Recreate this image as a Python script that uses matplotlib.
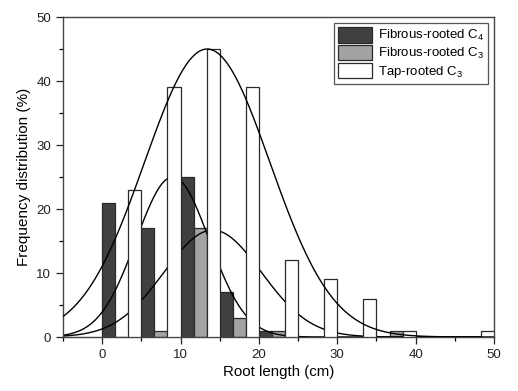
import numpy as np
import matplotlib
matplotlib.use("Agg")
import matplotlib.pyplot as plt
from matplotlib.ticker import MultipleLocator

plt.rcParams['font.family'] = ['Liberation Sans', 'DejaVu Sans']
plt.rcParams['mathtext.default'] = 'regular'

# Data
bins = [0, 5, 10, 15, 20, 25, 30, 35, 40, 45]
fibrous_c4 = [21, 17, 25, 7, 1, 0, 0, 0, 0, 0]
fibrous_c3 = [0, 1, 17, 3, 1, 0, 0, 1, 0, 0]
tap_c3 = [23, 39, 45, 39, 12, 9, 6, 1, 0, 1]
labels = ['Fibrous-rooted C$_4$', 'Fibrous-rooted C$_3$', 'Tap-rooted C$_3$']

# Fitted normal curves: (amplitude, mean, sd)
fit_c4 = (25, 9.0, 4.67)
fit_c3 = (16.7, 14.1, 6.21)
fit_tap = (45, 13.4, 8.0)

fig = plt.figure(figsize=(5.18, 3.91), dpi=100)
ax = fig.add_axes([0.1216, 0.1381, 0.8321, 0.8184])

w = 5 / 3
b = np.array(bins, dtype=float)
edge = '#2a2a2a'
ax.bar(b, fibrous_c4, width=w, align='edge', color='#404040', edgecolor=edge, linewidth=0.9, zorder=1, label=labels[0])
ax.bar(b + w, fibrous_c3, width=w, align='edge', color='#a3a3a3', edgecolor=edge, linewidth=0.9, zorder=1, label=labels[1])
ax.bar(b + 2 * w, tap_c3, width=w, align='edge', color='white', edgecolor=edge, linewidth=0.9, zorder=3, label=labels[2])

x = np.linspace(-5, 50, 600)
def gauss(p):
    a, m, s = p
    return a * np.exp(-(x - m) ** 2 / (2 * s ** 2))

ax.plot(x, gauss(fit_c4), color='black', lw=1.0, zorder=2)
ax.plot(x, gauss(fit_c3), color='black', lw=1.0, zorder=2)
ax.plot(x, gauss(fit_tap), color='black', lw=1.0, zorder=4)

ax.set_xlim(-5, 50)
ax.set_ylim(0, 50)
ax.xaxis.set_major_locator(MultipleLocator(10))
ax.xaxis.set_minor_locator(MultipleLocator(5))
ax.yaxis.set_major_locator(MultipleLocator(10))
ax.yaxis.set_minor_locator(MultipleLocator(5))
ax.tick_params(which='major', direction='out', length=5, width=0.9, labelsize=9.5, colors='#222222')
ax.tick_params(which='minor', direction='out', length=3, width=0.9)
for sp in ax.spines.values():
    sp.set_color('#444444')
    sp.set_linewidth(1.0)

ax.set_xlabel('Root length (cm)', fontsize=10.8, labelpad=3)
ax.set_ylabel('Frequency distribution (%)', fontsize=11, labelpad=4)

leg = ax.legend(loc='upper right', fontsize=9.5, frameon=True, fancybox=False,
                edgecolor='#555555', framealpha=1, handlelength=2.6, handleheight=1.45,
                labelspacing=0.12, borderpad=0.3, handletextpad=0.4, borderaxespad=0.45)
leg.get_frame().set_linewidth(0.9)

fig.savefig('out.png', dpi=100)
